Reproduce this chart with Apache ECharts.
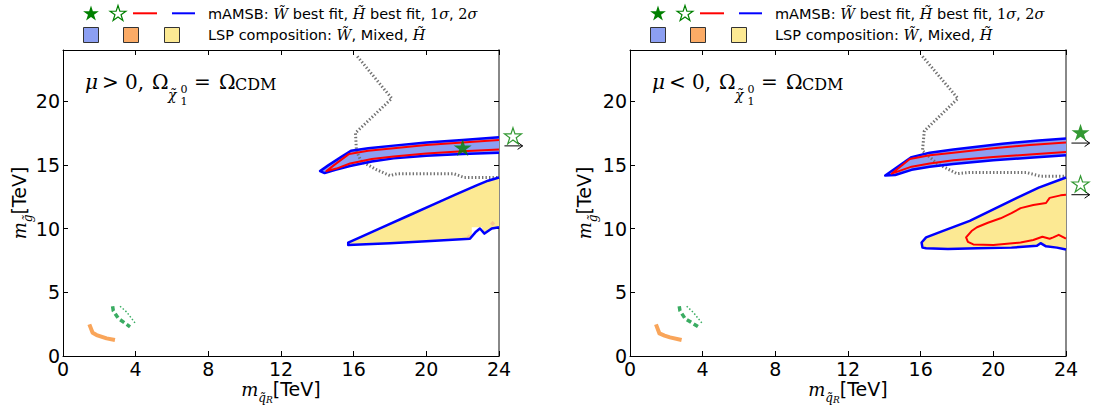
<!DOCTYPE html>
<html>
<head>
<meta charset="utf-8">
<script src="https://cdn.jsdelivr.net/npm/echarts@6/dist/echarts.min.js"></script>
<style>
  html, body { margin: 0; padding: 0; background: #fff; }
  #chart { width: 1097px; height: 405px; }
</style>
</head>
<body>
<div id="chart"></div>
<script>
// ---- tick values (TeV) ----
const xTickValues = [0, 4, 8, 12, 16, 20, 24];
const yTickValues = [0, 5, 10, 15, 20];

// ---- mu > 0 panel ----
// wino-LSP band: 2 sigma and 1 sigma contours [m_qR, m_gluino]
const posWino2s = [[24,17.15],[22,16.95],[20,16.75],[18.2,16.5],[16.8,16.3],[15.85,16.1],[15.3,15.6],[14.6,14.95],[14.15,14.5],[14.4,14.35],[15,14.6],[15.8,14.9],[17,15.25],[18.2,15.5],[20,15.7],[22,15.85],[24,15.95]];
const posWino1s = [[24,16.95],[22,16.75],[20,16.55],[18.2,16.3],[16.8,16.1],[15.75,15.85],[14.9,14.95],[14.5,14.5],[15.05,14.7],[15.8,15.1],[17,15.45],[18.2,15.65],[20,15.88],[22,16.05],[24,16.2]];
// higgsino-LSP region: 2 sigma contour and filled area
const posHiggsino2s = [[24,14.0],[23.4,13.75],[22.8,13.4],[21.6,12.65],[20.4,11.9],[19,11.0],[17.6,10.1],[16.5,9.4],[15.7,8.9],[15.7,8.7],[18,8.85],[20,9.0],[22.4,9.2],[22.7,9.7],[22.95,10.0],[23.2,9.6],[23.6,10.0],[24,10.1]];
const posHiggsinoArea = [[24,14.0],[23.4,13.75],[22.8,13.4],[21.6,12.65],[20.4,11.9],[19,11.0],[17.6,10.1],[16.5,9.4],[15.7,8.9],[15.7,8.7],[18,8.85],[20,9.0],[22.4,9.2],[22.5,9.3],[22.5,10.1],[23.05,10.1],[23.2,9.6],[23.6,10.0],[24,10.1]];
const posMixedCells = [[23.65,10.4],[22.35,9.35]];
// dotted boundary
const posDotted = [[16.2,23.5],[18.1,20.2],[16.1,17.5],[16.15,16.1],[16.4,15.3],[17.2,14.65],[18.0,14.15],[18.4,14.3],[21.5,14.3],[22.1,14.0],[24,14.0]];
// low-mass mixed-LSP strip and its contours
const posMixedLine = [[1.45,2.48],[1.63,1.82],[1.85,1.64],[2.4,1.38],[2.86,1.25]];
const posMixedDash = [[2.73,3.9],[2.77,3.54],[3.05,2.94],[3.69,2.29]];
const posMixedDot = [[3.14,3.9],[3.5,3.46],[3.96,2.6]];
// best-fit points (off-scale ones sit beyond the right edge, marked by an arrow)
const posWinoBest = [[22.0,16.35]];
const posHiggsinoBest = [[24.77,17.27]];
const posHiggsinoArrow = [[24.3,16.48],[25.3,16.48]];

// ---- mu < 0 panel ----
const negWino2s = [[24,17.05],[22.5,16.9],[20.5,16.65],[17.8,16.2],[16.5,15.95],[15.5,15.6],[14.6,14.7],[14.05,14.15],[14.6,14.2],[15.5,14.6],[16.5,14.85],[17.8,15.05],[20,15.35],[22,15.55],[24,15.75]];
const negWino1s = [[24,16.75],[22,16.55],[20,16.3],[17.8,15.95],[16.5,15.75],[15.4,15.45],[14.4,14.3],[14.8,14.5],[15.5,14.85],[16.5,15.1],[17.8,15.35],[20,15.6],[22,15.8],[24,16.0]];
const negHiggsino2s = [[24,14.0],[22.5,13.2],[21.3,12.4],[20,11.5],[18.7,10.6],[17.2,9.8],[16.3,9.3],[16.05,8.9],[16.1,8.5],[16.3,8.45],[17.5,8.4],[19.1,8.45],[21,8.5],[22.4,8.65],[22.6,8.85],[22.9,8.6],[23.5,8.5],[24,8.35]];
const negHiggsino1s = [[24,12.65],[23.7,12.6],[23.1,12.4],[22.9,12.0],[22.2,11.85],[21.5,11.6],[21.0,11.2],[20.4,10.8],[19.7,10.45],[19.1,10.1],[18.8,9.8],[18.5,9.3],[18.6,8.95],[18.9,8.75],[20.0,8.7],[21.5,8.9],[22.2,9.1],[22.7,9.35],[23.1,9.2],[23.3,9.3],[23.6,9.5],[24,9.2]];
const negDotted = [[16.1,23.5],[18.05,20.2],[16.2,17.65],[16.1,16.1],[16.9,15.1],[18.0,14.3],[18.7,14.4],[21.8,14.4],[22.6,14.1],[24,14.1]];
const negMixedLine = [[1.43,2.48],[1.62,1.77],[1.9,1.6],[2.2,1.46],[2.84,1.25]];
const negMixedDash = [[2.71,3.9],[2.75,3.55],[3.03,2.94],[3.76,2.29]];
const negMixedDot = [[3.12,3.9],[3.5,3.4],[3.95,2.6]];
const negWinoBest = [[24.8,17.55]];
const negWinoArrow = [[24.3,16.7],[25.3,16.7]];
const negHiggsinoBest = [[24.8,13.5]];
const negHiggsinoArrow = [[24.3,12.65],[25.3,12.65]];

// ---- styling ----
const C = {
  blueFill: '#8c9ff2', orangeFill: '#fbab66', yellowFill: '#fce993',
  red: '#ff0000', blue: '#0000ff', green: '#008000', mixedGreen: '#3aac62',
  grey: '#727272'
};
const STAR = 'path://M100,0L122.45,69.1L195.1,69.1L136.3,111.8L158.8,180.9L100,138.2L41.2,180.9L63.7,111.8L4.9,69.1L77.55,69.1Z';
const SERIF = 'DejaVu Serif';
const SANS = 'DejaVu Sans';

function area(g, pts, color) {
  return {
    type: 'custom', xAxisIndex: g * 2, yAxisIndex: g * 2, clip: true, silent: true, z: 1,
    data: [0],
    renderItem: (params, api) => ({
      type: 'polygon',
      shape: { points: pts.map(p => api.coord(p)) },
      style: { fill: color }
    })
  };
}
function curve(g, pts, color, width, type, z) {
  return {
    type: 'line', xAxisIndex: g * 2, yAxisIndex: g * 2, data: pts,
    symbol: 'none', showSymbol: false, silent: true, clip: true, z: z || 3,
    lineStyle: { color: color, width: width, type: type || 'solid', cap: 'butt', join: 'round' }
  };
}
function star(g, pts, filled) {
  return {
    type: 'scatter', xAxisIndex: g * 2, yAxisIndex: g * 2, data: pts, clip: false, silent: true, z: 6,
    symbol: STAR, symbolSize: filled ? [18, 17] : [17, 16],
    itemStyle: filled ? { color: C.green } : { color: '#fff', borderColor: C.green, borderWidth: 1.2 }
  };
}
// arrow from pts[0] to pts[1], drawn through the axis scales
function arrow(g, pts) {
  return {
    type: 'custom', xAxisIndex: g * 2, yAxisIndex: g * 2, clip: false, silent: true, z: 5,
    data: [0],
    renderItem: (params, api) => {
      const a = api.coord(pts[0]), b = api.coord(pts[1]);
      return {
        type: 'group',
        children: [
          { type: 'line', shape: { x1: a[0], y1: a[1], x2: b[0], y2: b[1] }, style: { stroke: '#000', lineWidth: 1 } },
          { type: 'polyline', shape: { points: [[b[0] - 5, b[1] - 3.5], [b[0], b[1]], [b[0] - 5, b[1] + 3.5]] },
            style: { stroke: '#000', lineWidth: 1, fill: null } }
        ]
      };
    }
  };
}

function panelSeries(g, d) {
  return [
    area(g, d.higgsinoArea, C.yellowFill),
    area(g, d.wino2s, C.blueFill),
    {
      type: 'scatter', xAxisIndex: g * 2, yAxisIndex: g * 2, data: d.mixedCells || [], silent: true, z: 2,
      symbol: 'diamond', symbolSize: 5, itemStyle: { color: '#f8bb8c' }
    },
    curve(g, d.dotted, C.grey, 3, [1.4, 2.1], 2),
    curve(g, d.wino2s, C.blue, 2.5, 'solid', 3),
    curve(g, d.wino1s, C.red, 2, 'solid', 4),
    curve(g, d.higgsino2s, C.blue, 2.5, 'solid', 3),
    d.higgsino1s ? curve(g, d.higgsino1s, C.red, 2, 'solid', 4) : null,
    curve(g, d.mixedLine, '#f9a55a', 4, 'solid', 3),
    curve(g, d.mixedDash, C.mixedGreen, 3.5, [5, 3], 3),
    curve(g, d.mixedDot, C.mixedGreen, 1.5, [1.5, 2], 3)
  ].filter(Boolean);
}

const subRich = {
  m: { fontFamily: SERIF, fontStyle: 'italic', fontSize: 18, lineHeight: 30, color: '#000' },
  s: { fontFamily: SERIF, fontStyle: 'italic', fontSize: 12, lineHeight: 16, verticalAlign: 'bottom', color: '#000' },
  ss: { fontFamily: SERIF, fontStyle: 'italic', fontSize: 9, lineHeight: 5, verticalAlign: 'bottom', color: '#000' },
  t: { fontFamily: SANS, fontSize: 19, lineHeight: 30, color: '#000' }
};

function axesFor(g) {
  const common = {
    gridIndex: g, type: 'value', min: 0, max: 24, splitLine: { show: false },
    axisLine: { show: true, onZero: false, lineStyle: { color: '#000', width: 1 } },
    axisTick: { show: true, inside: true, length: 5, lineStyle: { color: '#000', width: 1 } },
    nameMoveOverlap: false
  };
  const xb = Object.assign({}, common, {
    position: 'bottom', interval: 4,
    axisLabel: { show: true, color: '#000', fontFamily: SANS, fontSize: 19, margin: 3,
      formatter: v => xTickValues.includes(v) ? String(v) : '' },
    name: '{m|m}{s|q̃}{ss|R}{t|[TeV]}', nameLocation: 'middle', nameGap: 18,
    nameTextStyle: { rich: subRich }
  });
  const xt = Object.assign({}, common, { position: 'top', interval: 4, axisLabel: { show: false } });
  const yl = Object.assign({}, common, {
    position: 'left', interval: 5,
    axisLabel: { show: true, color: '#000', fontFamily: SANS, fontSize: 19, margin: 3,
      formatter: v => yTickValues.includes(v) ? String(v) : '' },
    name: '{m|m}{s|g̃}{t|[TeV]}', nameLocation: 'middle', nameGap: g === 0 ? 29 : 31,
    nameTextStyle: { rich: subRich }
  });
  const yr = Object.assign({}, common, {
    position: 'right', interval: 5, axisLabel: { show: false },
    axisLine: { show: true, onZero: false, lineStyle: { color: '#888', width: 2 } }
  });
  return { x: [xb, xt], y: [yl, yr] };
}

function starPoints(cx, cy, r) {
  const pts = [];
  for (let i = 0; i < 10; i++) {
    const a = -Math.PI / 2 + i * Math.PI / 5;
    const rr = i % 2 ? r * 0.382 : r;
    pts.push([cx + rr * Math.cos(a), cy + rr * Math.sin(a)]);
  }
  return pts;
}

// legend swatches for one panel, shifted horizontally by dx
function legendGraphics(dx) {
  return [
    { type: 'polygon', shape: { points: starPoints(91 + dx, 13.8, 8.3) }, style: { fill: C.green } },
    { type: 'polygon', shape: { points: starPoints(118 + dx, 13.8, 8.3) }, style: { fill: '#fff', stroke: C.green, lineWidth: 1.2 } },
    { type: 'line', shape: { x1: 133 + dx, y1: 13.3, x2: 157 + dx, y2: 13.3 }, style: { stroke: C.red, lineWidth: 2 } },
    { type: 'line', shape: { x1: 172 + dx, y1: 13.3, x2: 195 + dx, y2: 13.3 }, style: { stroke: C.blue, lineWidth: 2 } },
    { type: 'rect', shape: { x: 83.5 + dx, y: 27.5, width: 15, height: 15 }, style: { fill: C.blueFill, stroke: '#333', lineWidth: 1 } },
    { type: 'rect', shape: { x: 123.5 + dx, y: 27.5, width: 15, height: 15 }, style: { fill: C.orangeFill, stroke: '#333', lineWidth: 1 } },
    { type: 'rect', shape: { x: 164.5 + dx, y: 27.5, width: 15, height: 15 }, style: { fill: C.yellowFill, stroke: '#333', lineWidth: 1 } }
  ];
}

function tok(family, size, italic, lh) {
  return { fontFamily: family, fontSize: size, fontStyle: italic ? 'italic' : 'normal',
    fontWeight: 'normal', lineHeight: lh, color: '#000' };
}
const legendRich = { a: tok(SANS, 14.5, false, 18), w: tok(SERIF, 14.5, true, 18), n: tok(SERIF, 14.5, false, 18) };

function piece(left, centerY, text, rich) {
  return { left: left, top: centerY - 10, padding: 0, text: text,
    textStyle: { fontWeight: 'normal', lineHeight: 20, rich: rich } };
}

function titlesFor(dx, sign) {
  const big = { i: tok(SERIF, 20, true, 20), r: tok(SERIF, 20, false, 20) };
  const mid = { i: tok(SERIF, 14, true, 20), r: tok(SERIF, 16, false, 20) };
  const small = { r: tok(SERIF, 11, false, 20) };
  return [
    { left: 208 + dx, top: 4.5, padding: 0,
      text: '{a|mAMSB: }{w|W̃}{a| best fit, }{w|H̃}{a| best fit, }{n|1}{w|σ}{a|, }{n|2}{w|σ}',
      textStyle: { fontWeight: 'normal', rich: legendRich } },
    { left: 208 + dx, top: 25.5, padding: 0,
      text: '{a|LSP composition: }{w|W̃}{a|, Mixed, }{w|H̃}',
      textStyle: { fontWeight: 'normal', rich: legendRich } },
    // panel note: sign of mu and the relic-density condition
    piece(85 + dx, 82, '{i|μ}', big),
    piece(102 + dx, 82, '{r|' + sign + '}', big),
    piece(125 + dx, 82, '{r|0,}', big),
    piece(152 + dx, 82, '{r|Ω}', big),
    piece(168 + dx, 94.5, '{i|χ̃}', mid),
    piece(180.5 + dx, 89.5, '{r|0}', small),
    piece(180.5 + dx, 101.5, '{r|1}', small),
    piece(194 + dx, 82, '{r|=}', big),
    piece(219 + dx, 82, '{r|Ω}', big),
    piece(235 + dx, 84.5, '{r|CDM}', mid)
  ];
}

const ax0 = axesFor(0), ax1 = axesFor(1);

const option = {
  animation: false,
  backgroundColor: '#fff',
  textStyle: { fontFamily: SANS },
  grid: [
    { left: 63, right: 598, top: 50, bottom: 49, outerBoundsMode: 'none', containLabel: false },
    { left: 630, right: 31, top: 50, bottom: 49, outerBoundsMode: 'none', containLabel: false }
  ],
  xAxis: [ax0.x[0], ax0.x[1], ax1.x[0], ax1.x[1]],
  yAxis: [ax0.y[0], ax0.y[1], ax1.y[0], ax1.y[1]],
  title: titlesFor(0, '>').concat(titlesFor(567, '<')),
  graphic: legendGraphics(0).concat(legendGraphics(567)),
  series: [].concat(
    panelSeries(0, {
      higgsinoArea: posHiggsinoArea, wino2s: posWino2s, wino1s: posWino1s,
      higgsino2s: posHiggsino2s, mixedCells: posMixedCells, dotted: posDotted,
      mixedLine: posMixedLine, mixedDash: posMixedDash, mixedDot: posMixedDot
    }),
    [star(0, posWinoBest, true), star(0, posHiggsinoBest, false), arrow(0, posHiggsinoArrow)],
    panelSeries(1, {
      higgsinoArea: negHiggsino2s, wino2s: negWino2s, wino1s: negWino1s,
      higgsino2s: negHiggsino2s, higgsino1s: negHiggsino1s, dotted: negDotted,
      mixedLine: negMixedLine, mixedDash: negMixedDash, mixedDot: negMixedDot
    }),
    [star(1, negWinoBest, true), star(1, negHiggsinoBest, false),
     arrow(1, negWinoArrow), arrow(1, negHiggsinoArrow)]
  )
};

const chart = echarts.init(document.getElementById('chart'), null, { renderer: 'svg' });
chart.setOption(option);
</script>
</body>
</html>
